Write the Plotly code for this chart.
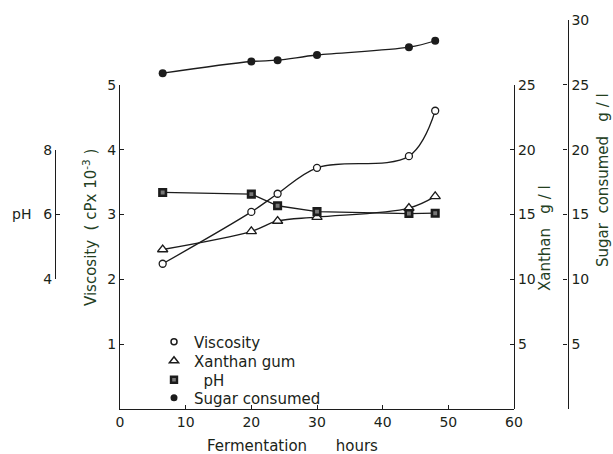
import plotly.graph_objects as go

hours = [6.5, 20, 24, 30, 44, 48]
viscosity = [2.24, 3.04, 3.32, 3.72, 3.90, 4.60]
xanthan = [12.3, 13.7, 14.5, 14.8, 15.5, 16.4]
ph = [6.68, 6.63, 6.27, 6.09, 6.03, 6.04]
sugar = [25.9, 26.8, 26.9, 27.3, 27.9, 28.4]

x_ticks = [0, 10, 20, 30, 40, 50, 60]
visc_ticks = [1, 2, 3, 4, 5]
ph_ticks = [4, 6, 8]
xan_ticks = [5, 10, 15, 20, 25]
sugar_ticks = [0, 5, 10, 15, 20, 25, 30]

legend_names = ["Viscosity", "Xanthan gum", "\u00a0\u00a0pH", "Sugar consumed"]

INK = "#1c1c1c"
TXT = "#1a2418"
TTL = "#24401f"
FONT = "DejaVu Sans"

W, H = 613, 454
ml, mr, mt, mb = 20, 20, 20, 45
pw = W - ml - mr
ph_ = H - mt - mb

def px(xp):
    return (xp - ml) / pw

def py(yp):
    return (H - mb - yp) / ph_

fig = go.Figure()
line = dict(color=INK, width=1.3)

m_visc = dict(symbol="circle", size=7, color="white", line=dict(color=INK, width=1.3))
m_xan = dict(symbol="triangle-up", size=9, color="white", line=dict(color=INK, width=1.3))
m_ph = dict(symbol="square", size=6.5, color="#777", line=dict(color=INK, width=2.6))
m_sug = dict(symbol="circle", size=8, color=INK)

fig.add_trace(go.Scatter(x=hours, y=viscosity, mode="lines+markers", xaxis="x", yaxis="y",
                         line=dict(**line, shape="spline", smoothing=1.0), marker=m_visc, showlegend=False))
fig.add_trace(go.Scatter(x=hours, y=xanthan, mode="lines+markers", xaxis="x", yaxis="y2",
                         line=dict(**line, shape="spline", smoothing=1.0), marker=m_xan, showlegend=False))
fig.add_trace(go.Scatter(x=hours, y=ph, mode="lines+markers", xaxis="x", yaxis="y4",
                         line=dict(**line), marker=m_ph, showlegend=False))
fig.add_trace(go.Scatter(x=hours, y=sugar, mode="lines+markers", xaxis="x", yaxis="y3",
                         line=dict(**line, shape="spline", smoothing=1.0), marker=m_sug, showlegend=False))

# legend-only entries, one legend per row for exact placement
leg_markers = [
    dict(symbol="circle", size=6, color="white", line=dict(color=INK, width=1.5)),
    dict(symbol="triangle-up", size=8, color="white", line=dict(color=INK, width=1.5)),
    dict(symbol="square", size=6, color="#777", line=dict(color=INK, width=2.4)),
    dict(symbol="circle", size=7, color=INK),
]
leg_ids = ["legend", "legend2", "legend3", "legend4"]
row_y = [342, 361, 380, 398]
for name, mk, lid in zip(legend_names, leg_markers, leg_ids):
    fig.add_trace(go.Scatter(x=[None], y=[None], mode="markers", name=name, marker=mk, legend=lid))

tickfont = dict(family=FONT, size=14, color=TXT)
axis_common = dict(showline=True, linecolor=INK, linewidth=1.3, showgrid=False, zeroline=False,
                   ticks="inside", ticklen=4, tickwidth=1.2, tickcolor=INK, tickfont=tickfont,
                   automargin=False, fixedrange=True)

leg_layout = {}
for lid, ry in zip(leg_ids, row_y):
    leg_layout[lid] = dict(x=px(154), y=py(ry), xanchor="left", yanchor="middle", bgcolor="rgba(0,0,0,0)",
                           font=dict(family=FONT, size=15, color=TXT), itemwidth=30, borderwidth=0)

fig.update_layout(
    width=W, height=H,
    margin=dict(l=ml, r=mr, t=mt, b=mb),
    paper_bgcolor="white", plot_bgcolor="rgba(0,0,0,0)",
    font=dict(family=FONT, size=14, color=TXT),
    xaxis=dict(domain=[px(120), px(514)], range=[0, 60], tickvals=x_ticks, anchor="y", **axis_common),
    yaxis=dict(domain=[0, 5 / 6], range=[0, 5], tickvals=visc_ticks, anchor="x", side="left", **axis_common),
    yaxis2=dict(domain=[0, 5 / 6], range=[0, 25], tickvals=xan_ticks, anchor="x", side="right", **axis_common),
    yaxis3=dict(domain=[0, 1], range=[0, 30], tickvals=sugar_ticks,
                ticktext=["" if v == 0 else str(v) for v in sugar_ticks],
                anchor="free", position=px(567.5), side="right", **axis_common),
    yaxis4=dict(domain=[1 / 3, 2 / 3], range=[4, 8], tickvals=ph_ticks,
                anchor="free", position=px(55), side="left", **axis_common),
    **leg_layout,
)

ann_font = dict(family=FONT, size=15, color=TTL)
common = dict(xref="paper", yref="paper", showarrow=False, xanchor="center", yanchor="middle")
fig.add_annotation(text="Viscosity\u00a0\u00a0(\u00a0cPx\u00a010<sup>-3</sup>\u00a0)",
                   x=px(90), y=py(228), textangle=-90, font=ann_font, **common)
fig.add_annotation(text="pH", x=px(21), y=py(214), font=dict(family=FONT, size=14, color=TXT), **common)
fig.add_annotation(text="Xanthan\u00a0\u00a0\u00a0g\u00a0/\u00a0l",
                   x=px(545), y=py(238), textangle=-90, font=ann_font, **common)
fig.add_annotation(text="Sugar\u00a0\u00a0consumed\u00a0\u00a0\u00a0g\u00a0/\u00a0l",
                   x=px(603), y=py(180), textangle=-90, font=ann_font, **common)
fig.add_annotation(text="Fermentation\u00a0\u00a0\u00a0\u00a0\u00a0\u00a0hours",
                   x=px(292), y=py(446), font=dict(family=FONT, size=15, color=TXT), **common)

fig.write_html("out.html")
